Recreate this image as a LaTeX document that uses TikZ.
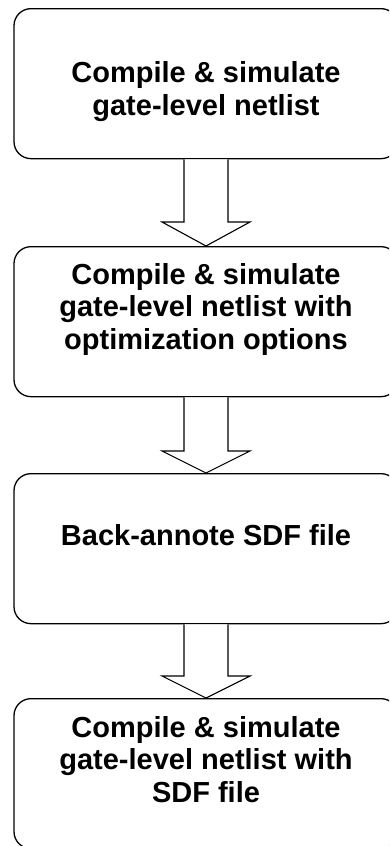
\documentclass[tikz,border=0pt]{standalone}
\usepackage{fontspec}
\setmainfont{Liberation Sans}
\usetikzlibrary{calc}
\tikzset{
  stepbox/.style={draw=black, line width=1.3pt, rounded corners=17pt, fill=white,
    minimum width=384pt, inner sep=0pt, anchor=north},
  steptext/.style={align=center, inner sep=0pt, anchor=base,
    font=\fontsize{29pt}{32.3pt}\selectfont\bfseries},
  blockarrow/.style={draw=black, line width=1.1pt, fill=white, line join=miter}
}
\begin{document}
\begin{tikzpicture}[x=1pt,y=1pt]
\useasboundingbox (0,0) rectangle (389,-846);
\clip (0,0) rectangle (389,-846);
\node[stepbox, minimum height=150pt] (b1) at (206,-8) {};
\node[stepbox, minimum height=150pt] (b2) at (206,-246) {};
\node[stepbox, minimum height=150pt] (b3) at (206,-473) {};
\node[stepbox, minimum height=150pt] (b4) at (206,-698) {};

% base anchor = baseline of the last line
\node[steptext] (t1) at (206,-115) {Compile \& simulate\\gate-level netlist};
\node[steptext] (t2) at (206,-349) {Compile \& simulate\\gate-level netlist with\\optimization options};
\node[steptext] (t3) at (206,-545) {Back-annote SDF file};
\node[steptext] (t4) at (206,-802) {Compile \& simulate\\gate-level netlist with\\SDF file};

\draw[blockarrow] ($(b1.south)+(-22,0)$) -- ($(b2.north)+(-22,24)$) -- ($(b2.north)+(-44,24)$)
  -- (b2.north) -- ($(b2.north)+(44,24)$) -- ($(b2.north)+(22,24)$) -- ($(b1.south)+(22,0)$);
\draw[blockarrow] ($(b2.south)+(-22,0)$) -- ($(b3.north)+(-22,22)$) -- ($(b3.north)+(-44,22)$)
  -- (b3.north) -- ($(b3.north)+(44,22)$) -- ($(b3.north)+(22,22)$) -- ($(b2.south)+(22,0)$);
\draw[blockarrow] ($(b3.south)+(-22,0)$) -- ($(b4.north)+(-22,22)$) -- ($(b4.north)+(-44,22)$)
  -- (b4.north) -- ($(b4.north)+(44,22)$) -- ($(b4.north)+(22,22)$) -- ($(b3.south)+(22,0)$);
\end{tikzpicture}
\end{document}
